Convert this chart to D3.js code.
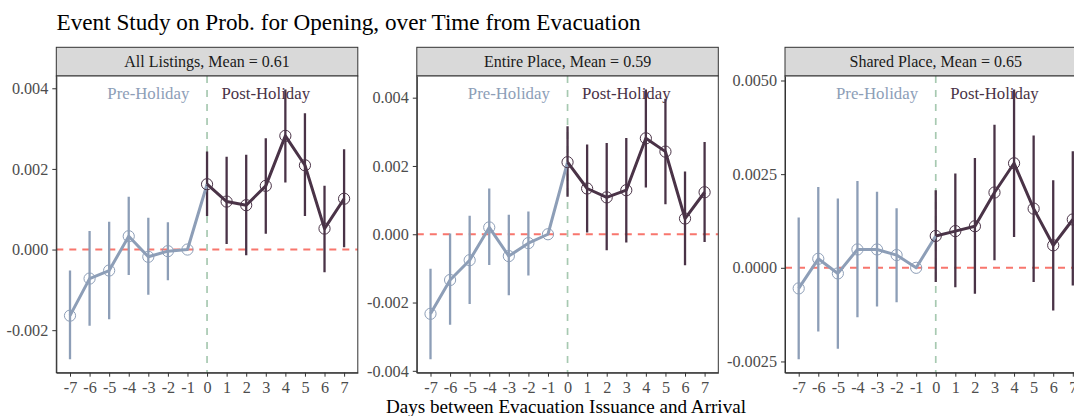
<!DOCTYPE html>
<html>
<head>
<meta charset="utf-8">
<script src="https://cdn.jsdelivr.net/npm/d3@7"></script>
<style>
  html, body { margin: 0; padding: 0; background: #ffffff; }
  svg { display: block; font-family: "Liberation Serif", "Times New Roman", serif; }
  svg text { font-family: "Liberation Serif", "Times New Roman", serif; }
</style>
</head>
<body>
<svg id="chart" width="1074" height="416"></svg>
<script>
// Days relative to evacuation arrival
const days = [-7, -6, -5, -4, -3, -2, -1, 0, 1, 2, 3, 4, 5, 6, 7];

// Panel titles
const panelTitles = ["All Listings, Mean = 0.61", "Entire Place, Mean = 0.59", "Shared Place, Mean = 0.65"];

// All listings: estimate and 95% CI
const allEst   = [-0.00164, -0.00072, -0.00052, 0.00033, -0.00018, -0.00004, 0, 0.00162, 0.00119, 0.00110, 0.00158, 0.00282, 0.00209, 0.00052, 0.00126];
const allLow   = [-0.00272, -0.00189, -0.00173, -0.00063, -0.00112, -0.00076, 0, 0.00083, 0.00014, -0.00014, 0.00039, 0.00166, 0.00083, -0.00056, 0.00006];
const allHigh  = [-0.00052, 0.00046, 0.00069, 0.00131, 0.00079, 0.00068, 0, 0.00243, 0.00230, 0.00235, 0.00276, 0.00397, 0.00338, 0.00158, 0.00249];

// Entire place: estimate and 95% CI
const entEst   = [-0.00233, -0.00134, -0.00076, 0.00020, -0.00064, -0.00026, 0, 0.00211, 0.00134, 0.00108, 0.00129, 0.00281, 0.00242, 0.00046, 0.00123];
const entLow   = [-0.00366, -0.00265, -0.00204, -0.00090, -0.00179, -0.00121, 0, 0.00110, 0.00005, -0.00047, -0.00024, 0.00137, 0.00088, -0.00091, -0.00023];
const entHigh  = [-0.00101, 0.00002, 0.00054, 0.00134, 0.00057, 0.00067, 0, 0.00316, 0.00263, 0.00267, 0.00282, 0.00424, 0.00397, 0.00184, 0.00270];

// Shared place: estimate and 95% CI
const shrEst   = [-0.00055, 0.00024, -0.00015, 0.00049, 0.00049, 0.00034, 0, 0.00085, 0.00098, 0.00111, 0.00201, 0.00279, 0.00158, 0.00060, 0.00129];
const shrLow   = [-0.00244, -0.00170, -0.00216, -0.00132, -0.00103, -0.00092, 0, -0.00038, -0.00052, -0.00069, 0.00020, 0.00082, -0.00038, -0.00114, -0.00047];
const shrHigh  = [0.00134, 0.00216, 0.00185, 0.00232, 0.00203, 0.00159, 0, 0.00207, 0.00252, 0.00293, 0.00382, 0.00476, 0.00353, 0.00234, 0.00311];

// Y tick values and labels per panel
const yTicks = [
  [-0.002, 0, 0.002, 0.004],
  [-0.004, -0.002, 0, 0.002, 0.004],
  [-0.0025, 0, 0.0025, 0.005]
];
const yTickLabels = [
  ["-0.002", "0.000", "0.002", "0.004"],
  ["-0.004", "-0.002", "0.000", "0.002", "0.004"],
  ["-0.0025", "0.0000", "0.0025", "0.0050"]
];
const xTickLabels = ["-7", "-6", "-5", "-4", "-3", "-2", "-1", "0", "1", "2", "3", "4", "5", "6", "7"];

const periodLabels = ["Pre-Holiday", "Post-Holiday"];
const chartTitle = "Event Study on Prob. for Opening, over Time from Evacuation";
const xAxisTitle = "Days between Evacuation Issuance and Arrival";

// Styling / layout
const preColor = "#8d9eb7";
const postColor = "#4a3347";
const zeroColor = "#f8766d";
const eventColor = "#a7c9b1";
const textColor = "#4d4d4d";
const serif = "Liberation Serif, Times New Roman, serif";

const panelLefts = [56.3, 416.8, 785.0];
const panelW = 301.5;
const stripTop = 47.3, stripH = 28.7;
const plotTop = stripTop + stripH, plotBottom = 372.7;

const series = [
  { est: allEst, low: allLow, high: allHigh },
  { est: entEst, low: entLow, high: entHigh },
  { est: shrEst, low: shrLow, high: shrHigh }
];

const svg = d3.select("#chart");

// Title
svg.append("text")
  .attr("x", 56.5).attr("y", 30)
  .attr("font-size", 23.2).attr("fill", "#000")
  .text(chartTitle);

series.forEach((s, p) => {
  const left = panelLefts[p];
  const rows = days.map((d, i) => ({ d, est: s.est[i], low: s.low[i], high: s.high[i] }));

  const x = d3.scaleLinear().domain([-7.7, 7.7]).range([left, left + panelW]);
  const lo = d3.min(rows, r => r.low), hi = d3.max(rows, r => r.high);
  const pad = (hi - lo) * 0.05;
  const y = d3.scaleLinear().domain([lo - pad, hi + pad]).range([plotBottom, plotTop]);

  const g = svg.append("g");

  // Strip
  g.append("rect")
    .attr("x", left).attr("y", stripTop)
    .attr("width", panelW).attr("height", stripH)
    .attr("fill", "#d9d9d9").attr("stroke", "#333333").attr("stroke-width", 1);
  g.append("text")
    .attr("x", left + panelW / 2).attr("y", stripTop + stripH / 2 + 5.5)
    .attr("text-anchor", "middle").attr("font-size", 16).attr("fill", "#1a1a1a")
    .text(panelTitles[p]);

  // Panel background
  g.append("rect")
    .attr("x", left).attr("y", plotTop)
    .attr("width", panelW).attr("height", plotBottom - plotTop)
    .attr("fill", "#ffffff");

  const clipId = "clip" + p;
  g.append("clipPath").attr("id", clipId)
    .append("rect").attr("x", left).attr("y", plotTop)
    .attr("width", panelW).attr("height", plotBottom - plotTop);
  const inner = g.append("g").attr("clip-path", `url(#${clipId})`);

  // Reference lines
  inner.append("line")
    .attr("x1", left).attr("x2", left + panelW)
    .attr("y1", y(0)).attr("y2", y(0))
    .attr("stroke", zeroColor).attr("stroke-width", 2)
    .attr("stroke-dasharray", "7,6");
  inner.append("line")
    .attr("x1", x(0)).attr("x2", x(0))
    .attr("y1", plotTop).attr("y2", plotBottom)
    .attr("stroke", eventColor).attr("stroke-width", 1.7)
    .attr("stroke-dasharray", "7,7");

  // Period labels
  inner.append("text")
    .attr("x", x(-3)).attr("y", plotTop + 23)
    .attr("text-anchor", "middle").attr("font-size", 16.8).attr("fill", preColor)
    .text(periodLabels[0]);
  inner.append("text")
    .attr("x", x(3)).attr("y", plotTop + 23)
    .attr("text-anchor", "middle").attr("font-size", 16.8).attr("fill", postColor)
    .text(periodLabels[1]);

  const pre = rows.filter(r => r.d < 0);
  const preLine = rows.filter(r => r.d <= 0);
  const post = rows.filter(r => r.d >= 0);

  // Confidence intervals
  inner.selectAll(".ci-pre").data(pre.filter(r => r.low !== r.high)).join("line")
    .attr("x1", r => x(r.d)).attr("x2", r => x(r.d))
    .attr("y1", r => y(r.low)).attr("y2", r => y(r.high))
    .attr("stroke", preColor).attr("stroke-width", 2.3);
  inner.selectAll(".ci-post").data(post).join("line")
    .attr("x1", r => x(r.d)).attr("x2", r => x(r.d))
    .attr("y1", r => y(r.low)).attr("y2", r => y(r.high))
    .attr("stroke", postColor).attr("stroke-width", 2.3);

  // Estimate lines
  const line = d3.line().x(r => x(r.d)).y(r => y(r.est));
  inner.append("path").datum(preLine).attr("d", line)
    .attr("fill", "none").attr("stroke", preColor).attr("stroke-width", 3)
    .attr("stroke-linejoin", "round");
  inner.append("path").datum(post).attr("d", line)
    .attr("fill", "none").attr("stroke", postColor).attr("stroke-width", 3)
    .attr("stroke-linejoin", "round");

  // Points
  inner.selectAll(".pt").data(rows).join("circle")
    .attr("cx", r => x(r.d)).attr("cy", r => y(r.est)).attr("r", 5.6)
    .attr("fill", "none").attr("stroke", r => r.d < 0 ? preColor : postColor)
    .attr("stroke-width", 1);

  // Panel border
  g.append("rect")
    .attr("x", left).attr("y", plotTop)
    .attr("width", panelW).attr("height", plotBottom - plotTop)
    .attr("fill", "none").attr("stroke", "#333333").attr("stroke-width", 1);

  // Y axis
  const yAxis = d3.axisLeft(y).tickValues(yTicks[p]).tickSize(4).tickSizeOuter(0).tickPadding(4)
    .tickFormat((v, i) => yTickLabels[p][i]);
  const ya = g.append("g").attr("transform", `translate(${left},0)`).call(yAxis)
    .attr("font-family", serif).attr("font-size", 16.2);
  ya.select(".domain").attr("stroke", "#333333");
  ya.selectAll(".tick line").attr("stroke", "#333333");
  ya.selectAll(".tick text").attr("fill", textColor);

  // X axis
  const xAxis = d3.axisBottom(x).tickValues(days).tickSize(4).tickSizeOuter(0).tickPadding(5)
    .tickFormat((v, i) => xTickLabels[i]);
  const xa = g.append("g").attr("transform", `translate(0,${plotBottom})`).call(xAxis)
    .attr("font-family", serif).attr("font-size", 16.2);
  xa.select(".domain").attr("stroke", "#333333");
  xa.selectAll(".tick line").attr("stroke", "#333333");
  xa.selectAll(".tick text").attr("fill", textColor);
});

// X axis title
svg.append("text")
  .attr("x", 566).attr("y", 413)
  .attr("text-anchor", "middle").attr("font-size", 19.1).attr("fill", "#000")
  .text(xAxisTitle);
</script>
</body>
</html>
